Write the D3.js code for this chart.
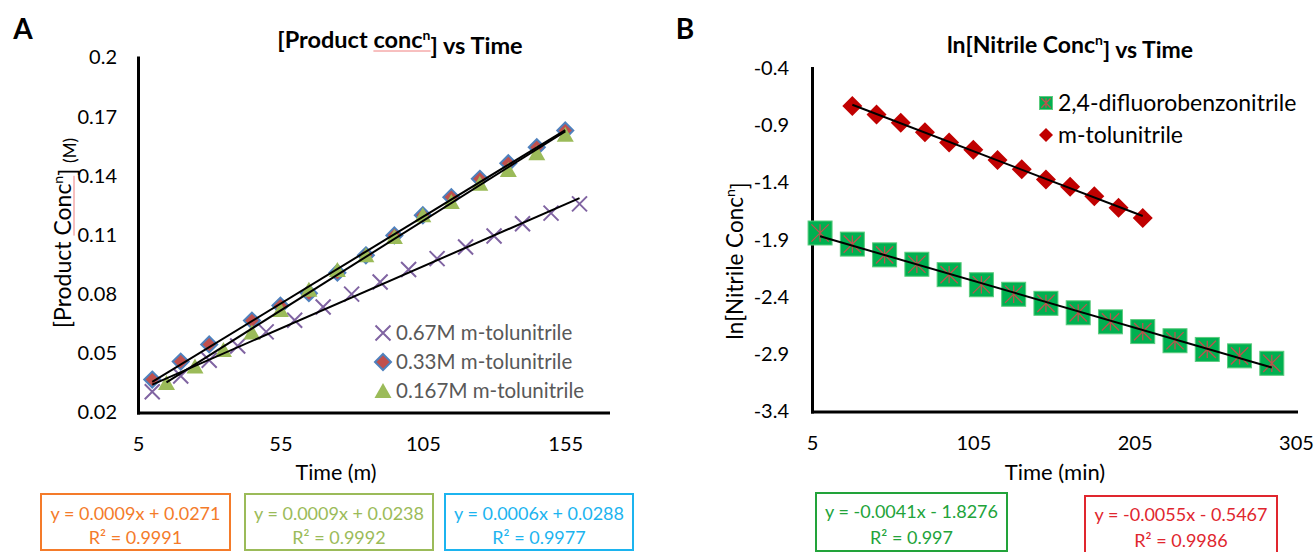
<!DOCTYPE html>
<html>
<head>
<meta charset="utf-8">
<script src="https://cdn.jsdelivr.net/npm/d3@7"></script>
<style>
  body { margin: 0; background: #fff; }
  text { font-family: Lato, "Open Sans", sans-serif; }
</style>
</head>
<body>
<script>
// ---------- panel A data : product conc vs time
var timeX = [10, 20, 30, 40, 50, 60, 70, 80, 90, 100, 110, 120, 130, 140, 150, 160];
var concX = [0.0305, 0.0385, 0.0465, 0.0537, 0.0609, 0.0668, 0.0735, 0.0800, 0.0862, 0.0925, 0.0980, 0.1039, 0.1095, 0.1157, 0.1211, 0.1258];
var timeD = [10, 20, 30, 45, 55, 65, 75, 85, 95, 105, 115, 125, 135, 145, 155];
var concD = [0.0367, 0.0458, 0.0545, 0.0666, 0.0742, 0.0805, 0.0909, 0.0997, 0.1098, 0.1200, 0.1292, 0.1385, 0.1464, 0.1545, 0.1630];
var timeT = [15, 25, 35, 45, 55, 65, 75, 85, 95, 105, 115, 125, 135, 145, 155];
var concT = [0.0349, 0.0433, 0.0517, 0.0606, 0.0720, 0.0823, 0.0922, 0.0997, 0.1090, 0.1200, 0.1267, 0.1360, 0.1430, 0.1515, 0.1608];
var ticksAx = [5, 55, 105, 155];
var ticksAy = [0.02, 0.05, 0.08, 0.11, 0.14, 0.17, 0.2];
var namesA = ["0.67M m-tolunitrile", "0.33M m-tolunitrile", "0.167M m-tolunitrile"];
var eqA = [["y = 0.0009x + 0.0271", "R\u00b2 = 0.9991"],
           ["y = 0.0009x + 0.0238", "R\u00b2 = 0.9992"],
           ["y = 0.0006x + 0.0288", "R\u00b2 = 0.9977"]];

// ---------- panel B data : ln nitrile conc vs time
var timeF = [10, 30, 50, 70, 90, 110, 130, 150, 170, 190, 210, 230, 250, 270, 290];
var lnF = [-1.841, -1.938, -2.032, -2.114, -2.205, -2.293, -2.376, -2.455, -2.538, -2.617, -2.702, -2.782, -2.858, -2.914, -2.979];
var timeM = [30, 45, 60, 75, 90, 105, 120, 135, 150, 165, 180, 195, 210];
var lnM = [-0.732, -0.806, -0.879, -0.962, -1.050, -1.114, -1.203, -1.285, -1.373, -1.438, -1.520, -1.620, -1.709];
var ticksBx = [5, 105, 205, 305];
var ticksBy = [-3.4, -2.9, -2.4, -1.9, -1.4, -0.9, -0.4];
var namesB = ["2,4-difluorobenzonitrile", "m-tolunitrile"];
var eqB = [["y = -0.0041x - 1.8276", "R\u00b2 = 0.997"],
           ["y = -0.0055x - 0.5467", "R\u00b2 = 0.9986"]];

var width = 1316;
var height = 552;

var svg = d3.select("body")
    .append("svg")
        .attr("width", width)
        .attr("height", height);

// least squares line over the data's x range (like an excel trendline)
function linfit(xs, ys) {
  var mx = d3.mean(xs), my = d3.mean(ys);
  var sxy = d3.sum(xs, function(x, i) { return (x - mx) * (ys[i] - my); });
  var sxx = d3.sum(xs, function(x) { return (x - mx) * (x - mx); });
  var b = sxy / sxx, a = my - b * mx;
  var x0 = d3.min(xs), x1 = d3.max(xs);
  return [[x0, a + b * x0], [x1, a + b * x1]];
}

function zip(xs, ys) { return xs.map(function(x, i) { return [x, ys[i]]; }); }

function diamondPath(r) { return "M0," + (-r) + "L" + r + ",0L0," + r + "L" + (-r) + ",0Z"; }

function styleAxis(g) {
  g.select(".domain").attr("stroke", "#000").attr("stroke-width", 3).attr("stroke-linecap", "square");
  g.selectAll("text").attr("font-size", 20).attr("fill", "#000");
}

// ================= PANEL A =================
var xA = d3.scaleLinear().domain([5, 170]).range([138, 608]);
var yA = d3.scaleLinear().domain([0.02, 0.2]).range([412.5, 57.5]);

var gxA = svg.append("g").attr("transform", "translate(0,412.5)")
    .call(d3.axisBottom(xA).tickValues(ticksAx).tickSize(0).tickSizeOuter(0).tickFormat(d3.format("d")));
styleAxis(gxA);
gxA.selectAll("text").attr("y", 31).attr("dy", "0.35em");

var gyA = svg.append("g").attr("transform", "translate(138,0)")
    .call(d3.axisLeft(yA).tickValues(ticksAy).tickSize(0).tickSizeOuter(0)
      .tickFormat(function(d) { return String(+d.toFixed(2)); }));
styleAxis(gyA);
gyA.selectAll("text").attr("x", -21);

// markers
var gX = svg.append("g");
zip(timeX, concX).forEach(function(d) {
  var cx = xA(d[0]), cy = yA(d[1]);
  gX.append("path").attr("d", "M-7.5,-7.5L7.5,7.5M-7.5,7.5L7.5,-7.5")
    .attr("transform", "translate(" + cx + "," + cy + ")")
    .attr("stroke", "#8064A2").attr("stroke-width", 2).attr("fill", "none");
});
svg.append("g").selectAll("path").data(zip(timeD, concD)).enter().append("path")
    .attr("d", diamondPath(8))
    .attr("transform", function(d) { return "translate(" + xA(d[0]) + "," + yA(d[1]) + ")"; })
    .attr("fill", "#C0504D").attr("stroke", "#4F81BD").attr("stroke-width", 2);
svg.append("g").selectAll("path").data(zip(timeT, concT)).enter().append("path")
    .attr("d", "M0,-8L8.5,7L-8.5,7Z")
    .attr("transform", function(d) { return "translate(" + xA(d[0]) + "," + yA(d[1]) + ")"; })
    .attr("fill", "#9BBB59");

// trend lines
var lineA = d3.line().x(function(d) { return xA(d[0]); }).y(function(d) { return yA(d[1]); });
[linfit(timeX, concX), linfit(timeD, concD), linfit(timeT, concT)].forEach(function(seg) {
  svg.append("path").attr("d", lineA(seg)).attr("stroke", "#000").attr("stroke-width", 2).attr("fill", "none");
});

// legend A
var legA = svg.append("g");
var legAy = [333, 362, 391];
legA.append("path").attr("d", "M-7.5,-7.5L7.5,7.5M-7.5,7.5L7.5,-7.5")
    .attr("transform", "translate(383," + legAy[0] + ")")
    .attr("stroke", "#8064A2").attr("stroke-width", 2);
legA.append("path").attr("d", diamondPath(8)).attr("transform", "translate(383," + legAy[1] + ")")
    .attr("fill", "#C0504D").attr("stroke", "#4F81BD").attr("stroke-width", 2);
legA.append("path").attr("d", "M0,-8L8.5,7L-8.5,7Z").attr("transform", "translate(383," + legAy[2] + ")")
    .attr("fill", "#9BBB59");
namesA.forEach(function(n, i) {
  legA.append("text").attr("x", 396).attr("y", legAy[i]).attr("dy", "0.35em")
    .attr("font-size", 20.5).attr("fill", "#595959").text(n);
});

// titles A
svg.append("text").attr("x", 23).attr("y", 29).attr("dy", "0.35em").attr("text-anchor", "middle")
    .attr("font-size", 28).attr("font-weight", "bold").text("A");

var tA = svg.append("text").attr("x", 400).attr("y", 40).attr("dy", "0.35em").attr("text-anchor", "middle")
    .attr("font-size", 23.5).attr("font-weight", "bold");
tA.append("tspan").text("[Product conc");
tA.append("tspan").attr("font-size", 14).attr("dy", "-0.6em").text("n");
tA.append("tspan").attr("dy", "0.6em").text("] vs Time");
// spell check squiggle under "conc"
(function() {
  var node = tA.node(), total = node.getComputedTextLength();
  var s = 400 - total / 2 + node.getSubStringLength(0, 9);
  var w = node.getSubStringLength(9, 5);
  svg.append("line").attr("x1", s).attr("x2", s + w).attr("y1", 51).attr("y2", 51)
    .attr("stroke", "#F08080").attr("stroke-width", 1);
})();

svg.append("text").attr("x", 336).attr("y", 472).attr("dy", "0.35em").attr("text-anchor", "middle")
    .attr("font-size", 21.5).text("Time (m)");

var gyl = svg.append("g").attr("transform", "translate(63,233) rotate(-90)");
var yl = gyl.append("text").attr("text-anchor", "middle").attr("dy", "0.35em").attr("font-size", 23);
yl.append("tspan").text("[Product Conc");
yl.append("tspan").attr("font-size", 14).attr("dy", "-0.55em").text("n");
yl.append("tspan").attr("dy", "0.55em").text("] ");
yl.append("tspan").attr("font-size", 17).text("(M)");
(function() {
  var node = yl.node(), total = node.getComputedTextLength();
  var s = -total / 2 + node.getSubStringLength(0, 9);
  var w = node.getSubStringLength(9, 5);
  gyl.append("line").attr("x1", s).attr("x2", s + w).attr("y1", 11).attr("y2", 11)
    .attr("stroke", "#F08080").attr("stroke-width", 1);
})();

// equation boxes A
var boxA = [[41, "#F47B2A"], [245, "#9BBB59"], [445, "#1CB4EF"]];
var boxAw = [189, 188, 188];
eqA.forEach(function(lines, i) {
  var bx = boxA[i][0], col = boxA[i][1];
  svg.append("rect").attr("x", bx).attr("y", 494).attr("width", boxAw[i]).attr("height", 56)
    .attr("fill", "#fff").attr("stroke", col).attr("stroke-width", 2);
  lines.forEach(function(l, j) {
    svg.append("text").attr("x", bx + boxAw[i] / 2).attr("y", 514 + j * 24).attr("dy", "0.35em")
      .attr("text-anchor", "middle").attr("font-size", 18).attr("fill", col).text(l);
  });
});

// ================= PANEL B =================
var xB = d3.scaleLinear().domain([5, 305]).range([812, 1296]);
var yB = d3.scaleLinear().domain([-3.4, -0.4]).range([411.5, 68]);

var gxB = svg.append("g").attr("transform", "translate(0,411.5)")
    .call(d3.axisBottom(xB).tickValues(ticksBx).tickSize(0).tickSizeOuter(0).tickFormat(d3.format("d")));
styleAxis(gxB);
gxB.selectAll("text").attr("y", 31).attr("dy", "0.35em");

var gyB = svg.append("g").attr("transform", "translate(812,0)")
    .call(d3.axisLeft(yB).tickValues(ticksBy).tickSize(0).tickSizeOuter(0)
      .tickFormat(function(d) { return String(+d.toFixed(1)); }));
styleAxis(gyB);
gyB.selectAll("text").attr("x", -23);

// green squares with red star
function starMarker(g, cx, cy, s) {
  var h = s / 2, k = s * 0.36;
  g.append("rect").attr("x", cx - h).attr("y", cy - h).attr("width", s).attr("height", s)
    .attr("fill", "#00B050").attr("stroke", "#5CCB7E").attr("stroke-width", 1);
  g.append("path").attr("d", "M" + (cx - k) + "," + (cy - k) + "L" + (cx + k) + "," + (cy + k) +
      "M" + (cx - k) + "," + (cy + k) + "L" + (cx + k) + "," + (cy - k) +
      "M" + cx + "," + (cy - k) + "L" + cx + "," + (cy + k))
    .attr("stroke", "#C0504D").attr("stroke-width", 1.3).attr("fill", "none");
}
var gF = svg.append("g");
zip(timeF, lnF).forEach(function(d) { starMarker(gF, xB(d[0]), yB(d[1]), 24); });

svg.append("g").selectAll("path").data(zip(timeM, lnM)).enter().append("path")
    .attr("d", diamondPath(10))
    .attr("transform", function(d) { return "translate(" + xB(d[0]) + "," + yB(d[1]) + ")"; })
    .attr("fill", "#C00000");

var lineB = d3.line().x(function(d) { return xB(d[0]); }).y(function(d) { return yB(d[1]); });
[linfit(timeF, lnF), linfit(timeM, lnM)].forEach(function(seg) {
  svg.append("path").attr("d", lineB(seg)).attr("stroke", "#000").attr("stroke-width", 2).attr("fill", "none");
});

// legend B
var legB = svg.append("g");
starMarker(legB, 1046, 103, 13);
legB.append("path").attr("d", diamondPath(7)).attr("transform", "translate(1046,135)").attr("fill", "#C00000");
namesB.forEach(function(n, i) {
  legB.append("text").attr("x", 1058).attr("y", 103 + i * 32).attr("dy", "0.35em")
    .attr("font-size", 23).attr("fill", "#000").text(n);
});

// titles B
svg.append("text").attr("x", 685).attr("y", 29).attr("dy", "0.35em").attr("text-anchor", "middle")
    .attr("font-size", 28).attr("font-weight", "bold").text("B");

var tB = svg.append("text").attr("x", 1070).attr("y", 45).attr("dy", "0.35em").attr("text-anchor", "middle")
    .attr("font-size", 23).attr("font-weight", "bold");
tB.append("tspan").text("ln[Nitrile Conc");
tB.append("tspan").attr("font-size", 14).attr("dy", "-0.6em").text("n");
tB.append("tspan").attr("dy", "0.6em").text("] vs Time");

svg.append("text").attr("x", 1055).attr("y", 472).attr("dy", "0.35em").attr("text-anchor", "middle")
    .attr("font-size", 22).text("Time (min)");

var ylB = svg.append("text").attr("transform", "translate(735,261) rotate(-90)")
    .attr("text-anchor", "middle").attr("dy", "0.35em").attr("font-size", 22.5);
ylB.append("tspan").text("ln[Nitrile Conc");
ylB.append("tspan").attr("font-size", 14).attr("dy", "-0.55em").text("n");
ylB.append("tspan").attr("dy", "0.55em").text("]");

// equation boxes B
var boxB = [[816, 493, 191, "#22A33A"], [1085, 496, 192, "#E0262E"]];
eqB.forEach(function(lines, i) {
  var b = boxB[i];
  svg.append("rect").attr("x", b[0]).attr("y", b[1]).attr("width", b[2]).attr("height", 58)
    .attr("fill", "#fff").attr("stroke", b[3]).attr("stroke-width", 2);
  lines.forEach(function(l, j) {
    svg.append("text").attr("x", b[0] + b[2] / 2).attr("y", b[1] + 19 + j * 26).attr("dy", "0.35em")
      .attr("text-anchor", "middle").attr("font-size", 18).attr("fill", b[3]).text(l);
  });
});
</script>
</body>
</html>
